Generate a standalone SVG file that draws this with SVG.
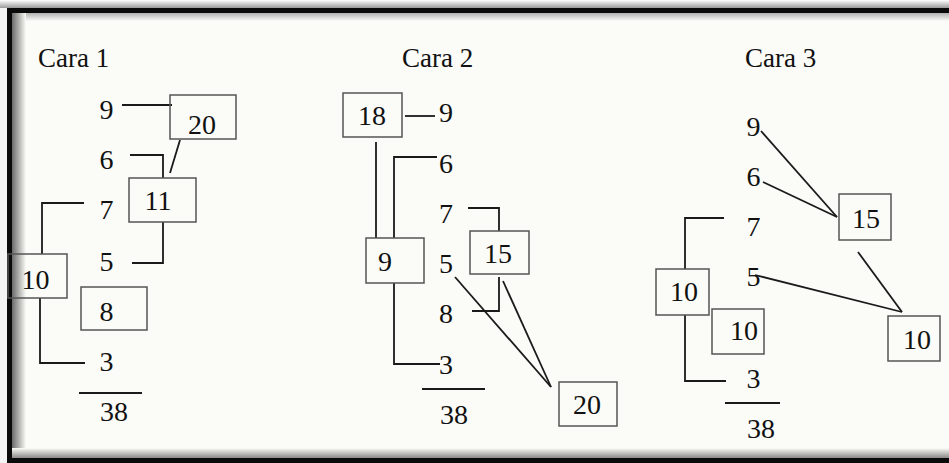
<svg xmlns="http://www.w3.org/2000/svg" width="949" height="463" viewBox="0 0 949 463">
<defs>
<linearGradient id="gTop" x1="0" y1="0" x2="0" y2="1"><stop offset="0" stop-color="#ffffff"/><stop offset="1" stop-color="#9a9a9a"/></linearGradient>
<linearGradient id="gTopIn" x1="0" y1="0" x2="0" y2="1"><stop offset="0" stop-color="#b0b0b0"/><stop offset="1" stop-color="#fbfcf7"/></linearGradient>
<linearGradient id="gLeft" x1="0" y1="0" x2="1" y2="0"><stop offset="0" stop-color="#6a6a6a"/><stop offset="1" stop-color="#fbfcf7"/></linearGradient>
<linearGradient id="gBot" x1="0" y1="0" x2="0" y2="1"><stop offset="0" stop-color="#fbfcf7"/><stop offset="1" stop-color="#8a8a8a"/></linearGradient>
</defs>
<style>
.t{font-family:"Liberation Serif","Times New Roman",serif;fill:#111;}
.h{font-size:27px;}
.n{font-size:28px;text-anchor:middle;}
.b{fill:none;stroke:#555;stroke-width:1.5;}
.c{fill:none;stroke:#1a1a1a;stroke-width:1.8;}
</style>
<rect x="0" y="0" width="949" height="463" fill="#f4f4f4"/>
<rect x="7" y="8" width="942" height="455" fill="#fbfcf7"/>
<g id="frame">
<rect x="0" y="0" width="949" height="8" fill="url(#gTop)"/>
<rect x="12" y="13" width="937" height="8" fill="url(#gTopIn)"/>
<rect x="12" y="13" width="14" height="445" fill="url(#gLeft)"/>
<rect x="12" y="448" width="937" height="10" fill="url(#gBot)"/>
<rect x="7" y="8" width="942" height="5" fill="#0a0a0a"/>
<rect x="7" y="8" width="5" height="455" fill="#0a0a0a"/>
<rect x="7" y="458" width="942" height="5" fill="#0a0a0a"/>
</g>
<g id="connectors">
<polyline class="c" points="122,105 172,105"/>
<polyline class="c" points="130,155 163,155 163,178"/>
<polyline class="c" points="180,140 170,173"/>
<polyline class="c" points="84,203 42,203 42,254"/>
<polyline class="c" points="163,222 163,263 132,263"/>
<polyline class="c" points="40,298 40,363 85,363"/>
<line class="c" x1="79" y1="393" x2="142" y2="393"/>
<polyline class="c" points="405,116 435,116"/>
<polyline class="c" points="376,142 376,238"/>
<polyline class="c" points="437,157 394,157 394,238"/>
<polyline class="c" points="468,208 499,208 499,231"/>
<polyline class="c" points="394,283 394,364 440,364"/>
<polyline class="c" points="499,277 499,311 472,311"/>
<polyline class="c" points="455,277 551,387"/>
<polyline class="c" points="503,281 551,387"/>
<line class="c" x1="422" y1="389" x2="485" y2="389"/>
<polyline class="c" points="761,131 837,217"/>
<polyline class="c" points="763,182 837,217"/>
<polyline class="c" points="724,218 685,218 685,269"/>
<polyline class="c" points="685,315 685,381 726,381"/>
<polyline class="c" points="755,275 902,312"/>
<polyline class="c" points="858,252 902,312"/>
<line class="c" x1="725" y1="403" x2="780" y2="403"/>
</g>
<g id="cara1">
<text class="t h" x="38" y="67">Cara 1</text>
<g id="c1-9"><text class="t n" x="106.5" y="119">9</text></g>
<g id="c1-6"><text class="t n" x="106.5" y="169">6</text></g>
<g id="c1-7"><text class="t n" x="106.5" y="219">7</text></g>
<g id="c1-5"><text class="t n" x="106.5" y="271">5</text></g>
<g id="c1-3"><text class="t n" x="106.5" y="371">3</text></g>
<g id="c1-38"><text class="t n" x="114" y="421">38</text></g>
<g id="c1-box20"><rect class="b" x="170" y="95" width="66" height="44"/><text class="t n" x="202" y="134">20</text></g>
<g id="c1-box11"><rect class="b" x="129" y="178" width="67" height="44"/><text class="t n" x="158" y="210">11</text></g>
<g id="c1-box10"><rect class="b" x="8" y="254" width="59" height="44"/><text class="t n" x="35.5" y="289">10</text></g>
<g id="c1-box8"><rect class="b" x="81" y="287" width="66" height="43"/><text class="t n" x="106.5" y="321">8</text></g>
</g>
<g id="cara2">
<text class="t h" x="402" y="67">Cara 2</text>
<g id="c2-9"><text class="t n" x="446" y="122">9</text></g>
<g id="c2-6"><text class="t n" x="446" y="173">6</text></g>
<g id="c2-7"><text class="t n" x="446" y="223">7</text></g>
<g id="c2-5"><text class="t n" x="446" y="273">5</text></g>
<g id="c2-8"><text class="t n" x="446" y="323">8</text></g>
<g id="c2-3"><text class="t n" x="446" y="374">3</text></g>
<g id="c2-38"><text class="t n" x="454" y="424">38</text></g>
<g id="c2-box18"><rect class="b" x="343" y="93" width="59" height="44"/><text class="t n" x="372" y="125">18</text></g>
<g id="c2-box9"><rect class="b" x="366" y="238" width="58" height="45"/><text class="t n" x="385" y="271">9</text></g>
<g id="c2-box15"><rect class="b" x="470" y="231" width="59" height="43"/><text class="t n" x="498" y="263">15</text></g>
<g id="c2-box20"><rect class="b" x="559" y="382" width="58" height="44"/><text class="t n" x="587" y="414">20</text></g>
</g>
<g id="cara3">
<text class="t h" x="745" y="67">Cara 3</text>
<g id="c3-9"><text class="t n" x="753.5" y="136">9</text></g>
<g id="c3-6"><text class="t n" x="753.5" y="186">6</text></g>
<g id="c3-7"><text class="t n" x="753.5" y="236">7</text></g>
<g id="c3-5"><text class="t n" x="753.5" y="286">5</text></g>
<g id="c3-3"><text class="t n" x="753.5" y="388">3</text></g>
<g id="c3-38"><text class="t n" x="761" y="438">38</text></g>
<g id="c3-box15"><rect class="b" x="839" y="194" width="52" height="46"/><text class="t n" x="866" y="228">15</text></g>
<g id="c3-box10a"><rect class="b" x="656" y="269" width="53" height="46"/><text class="t n" x="684" y="301">10</text></g>
<g id="c3-box10b"><rect class="b" x="712" y="309" width="52" height="45"/><text class="t n" x="744" y="340">10</text></g>
<g id="c3-box10c"><rect class="b" x="888" y="316" width="52" height="45"/><text class="t n" x="917" y="349">10</text></g>
</g>
</svg>
